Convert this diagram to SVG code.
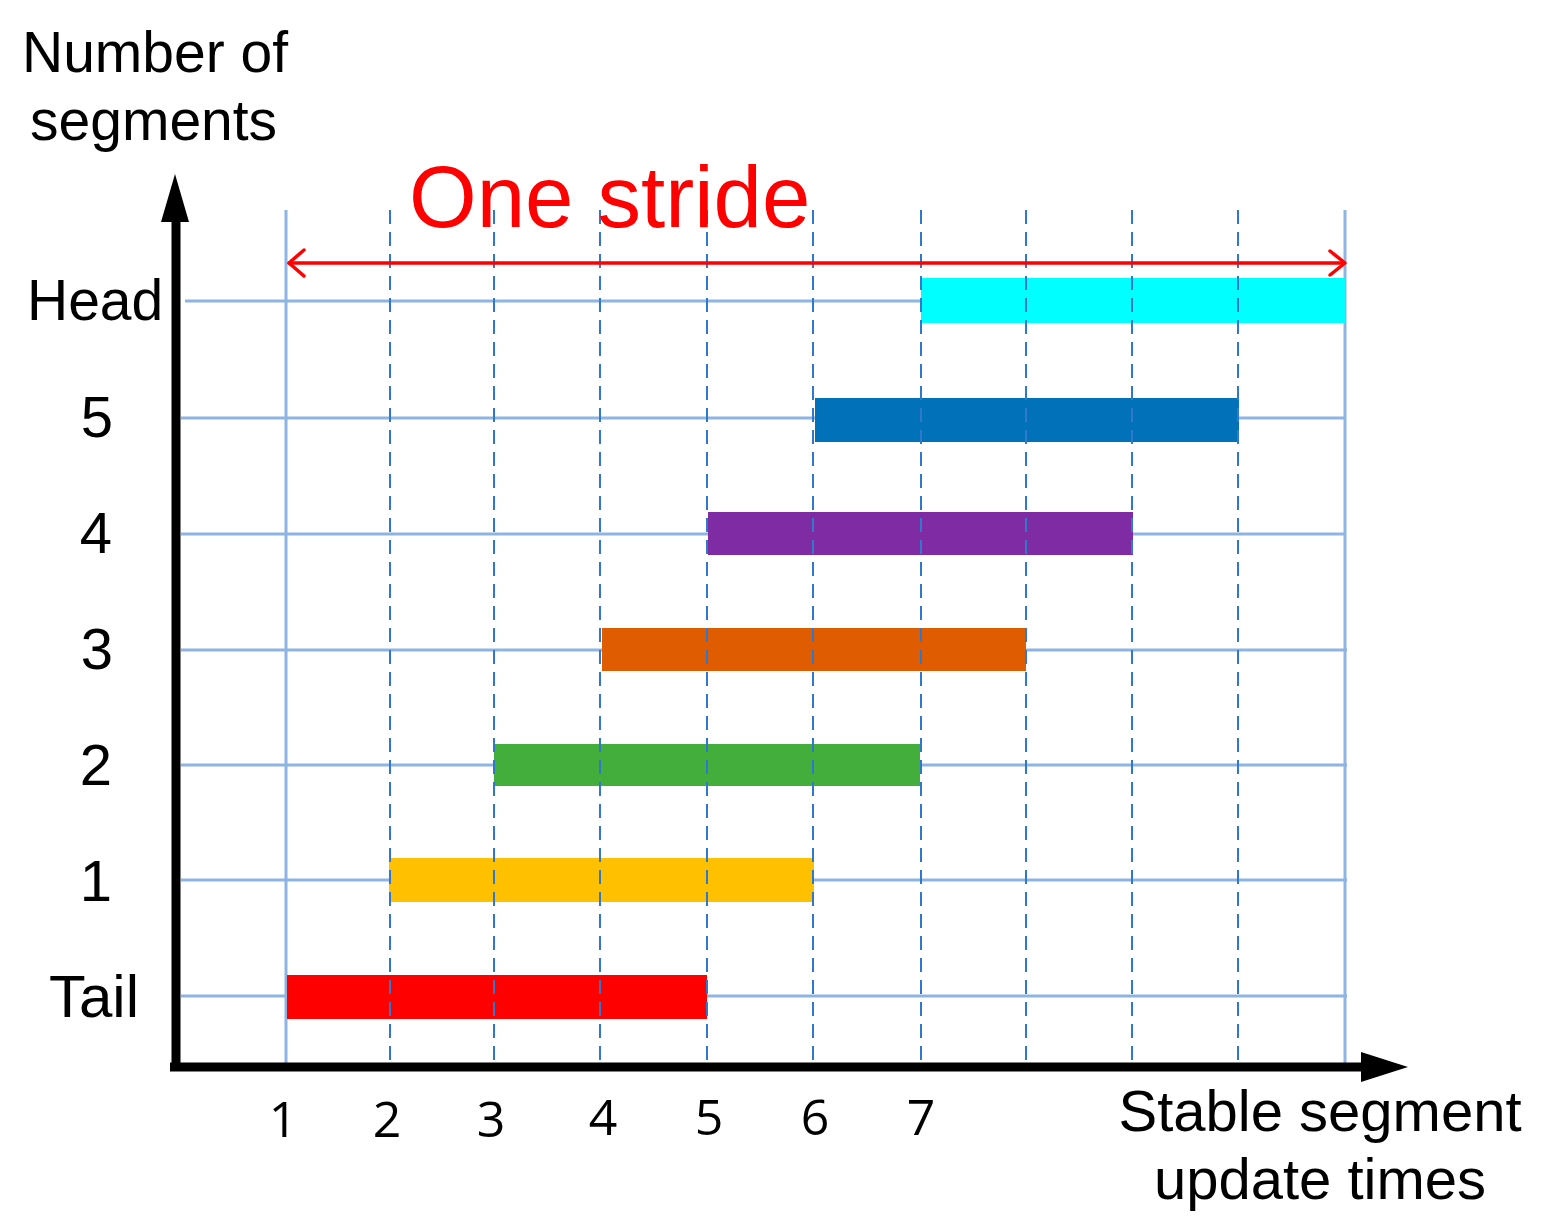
<svg xmlns="http://www.w3.org/2000/svg" width="1543" height="1231" viewBox="0 0 1543 1231">
  <style>
    .grid { stroke: #8eb4e3; stroke-width: 3; fill: none; }
    .dash { stroke: #2f78cc; stroke-width: 2; stroke-dasharray: 14 8; fill: none; }
    .axis { stroke: #000; stroke-width: 9; fill: none; }
    .lbl { font-family: "Liberation Sans", Arial, sans-serif; fill: #000; }
    .tick { font-family: "Open Sans", "Noto Sans", sans-serif; font-size: 50px; fill: #000; text-anchor: middle; }
    .ylbl { font-family: "Liberation Sans", Arial, sans-serif; font-size: 58px; fill: #000; text-anchor: middle; }
  </style>
  <rect width="1543" height="1231" fill="#fff"/>

  <g id="grid-horizontal">
    <line class="grid" x1="185" y1="301" x2="1345" y2="301"/>
    <line class="grid" x1="181" y1="418" x2="1345" y2="418"/>
    <line class="grid" x1="181" y1="534" x2="1345" y2="534"/>
    <line class="grid" x1="181" y1="650" x2="1347" y2="650"/>
    <line class="grid" x1="181" y1="765" x2="1347" y2="765"/>
    <line class="grid" x1="181" y1="880" x2="1347" y2="880"/>
    <line class="grid" x1="181" y1="996" x2="1347" y2="996"/>
  </g>

  <g id="grid-vertical-solid">
    <line class="grid" x1="286" y1="210" x2="286" y2="1063"/>
    <line class="grid" x1="1345" y1="210" x2="1345" y2="1063"/>
  </g>

  <g id="bars">
    <rect id="bar-head" x="921" y="278" width="424" height="45" fill="#00ffff"/>
    <rect id="bar-5" x="815" y="398" width="424" height="44" fill="#0171b9"/>
    <rect id="bar-4" x="708" y="512" width="425" height="43" fill="#7f2ba3"/>
    <rect id="bar-3" x="602" y="628" width="424" height="43" fill="#e05c00"/>
    <rect id="bar-2" x="494" y="744" width="426" height="42" fill="#44ae3c"/>
    <rect id="bar-1" x="389" y="858" width="425" height="44" fill="#ffc000"/>
    <rect id="bar-tail" x="287" y="975" width="420" height="44" fill="#ff0000"/>
  </g>

  <g id="grid-vertical-dashed">
    <line class="dash" x1="390" y1="210" x2="390" y2="1063"/>
    <line class="dash" x1="494" y1="210" x2="494" y2="1063"/>
    <line class="dash" x1="600" y1="210" x2="600" y2="1063"/>
    <line class="dash" x1="707" y1="210" x2="707" y2="1063"/>
    <line class="dash" x1="813" y1="210" x2="813" y2="1063"/>
    <line class="dash" x1="921" y1="210" x2="921" y2="1063"/>
    <line class="dash" x1="1026" y1="210" x2="1026" y2="1063"/>
    <line class="dash" x1="1132" y1="210" x2="1132" y2="1063"/>
    <line class="dash" x1="1238" y1="210" x2="1238" y2="1063"/>
  </g>

  <g id="connectors">
    <g id="stride-arrow" stroke="#ff0000" stroke-width="3.5" fill="none" stroke-linecap="round" stroke-linejoin="round">
      <line x1="289" y1="263" x2="1344" y2="263"/>
      <polyline points="304,250 289,263 304,276"/>
      <polyline points="1330,251 1345,263 1330,275"/>
    </g>
    <g id="y-axis">
      <line class="axis" x1="176" y1="215" x2="176" y2="1071"/>
      <polygon points="175,174 161,222 189,222" fill="#000"/>
    </g>
    <g id="x-axis">
      <line class="axis" x1="170" y1="1067" x2="1366" y2="1067"/>
      <polygon points="1408,1067 1361,1052 1361,1082" fill="#000"/>
    </g>
  </g>

  <g id="y-title">
    <text class="lbl" x="22" y="72" font-size="57">Number of</text>
    <text class="lbl" x="30" y="140" font-size="57">segments</text>
  </g>

  <g id="stride-label">
    <text x="409" y="227" font-family="Liberation Sans, Arial, sans-serif" font-size="87" fill="#ff0000">One stride</text>
  </g>

  <g id="y-labels">
    <text class="lbl" x="27" y="320" font-size="57">Head</text>
    <text class="ylbl" x="97" y="437">5</text>
    <text class="ylbl" x="96" y="553">4</text>
    <text class="ylbl" x="97" y="669">3</text>
    <text class="ylbl" x="96" y="785">2</text>
    <text class="ylbl" x="96" y="901">1</text>
    <text class="lbl" x="49" y="1017" font-size="60">Tail</text>
  </g>

  <g id="x-labels">
    <text class="tick" x="283" y="1137">1</text>
    <text class="tick" x="387" y="1137">2</text>
    <text class="tick" x="491" y="1137">3</text>
    <text class="tick" x="603" y="1135">4</text>
    <text class="tick" x="709" y="1135">5</text>
    <text class="tick" x="815" y="1135">6</text>
    <text class="tick" x="921" y="1135">7</text>
  </g>

  <g id="x-title">
    <text class="lbl" x="1320" y="1131" font-size="58" text-anchor="middle">Stable segment</text>
    <text class="lbl" x="1320" y="1199" font-size="58" text-anchor="middle">update times</text>
  </g>
</svg>
